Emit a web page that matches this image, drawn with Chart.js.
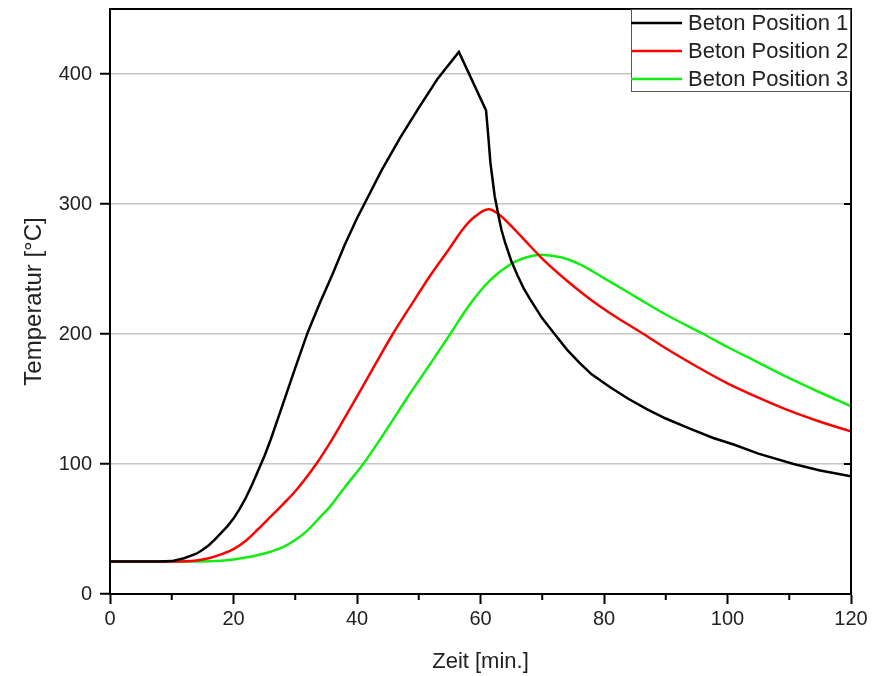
<!DOCTYPE html>
<html>
<head>
<meta charset="utf-8">
<script src="https://cdn.jsdelivr.net/npm/chart.js@4"></script>
<style>
  html, body { margin: 0; padding: 0; background: #fff; }
</style>
</head>
<body>
<canvas id="myChart" width="881" height="676"></canvas>
<script>
// Werte
const serienNamen = ['Beton Position 1', 'Beton Position 2', 'Beton Position 3'];

const zeit1 = [0, 8, 10, 12, 14, 15, 16, 17, 18, 19, 20, 21, 22, 23, 24, 25, 26, 28, 30, 32, 34, 36, 38, 40, 42, 44, 47, 50, 53, 56.5,
  60.9, 61.3, 61.6, 62.3, 63, 63.4, 64, 65, 66, 67, 68, 70, 72, 74, 76, 78, 81, 84, 87, 90, 94, 97.7, 101, 105, 110.7, 115, 120];
const temp1 = [25, 25, 25.3, 27.5, 31, 34, 37.5, 42, 47, 52, 58, 65.5, 74, 84, 95, 106, 118.5, 146, 174, 201, 224, 245.5, 268.5, 289, 307.5, 326, 351, 374, 396, 417,
  372, 350, 332, 306, 289, 280, 270, 256, 245, 235, 227, 212, 200, 188, 178, 169, 159, 150, 142, 135, 127, 120, 115, 108, 100, 95, 90.5];

const zeit2 = [0, 10, 14, 16, 18, 20, 22, 24, 26, 28, 30, 33.4, 35.6, 38, 40.5, 43, 45.8, 49, 52, 55, 57.2, 59, 61.3,
  63, 66, 70.2, 74, 77.7, 81, 86.4, 90, 95, 100, 105, 110, 115, 120];
const temp2 = [25, 25, 25.8, 27.5, 30.5, 34.5, 41, 50, 59.5, 69, 79, 100, 116, 135.5, 156, 177, 200, 224, 246, 266, 281, 290, 296,
  292, 278, 257, 241, 227, 216, 200, 189, 175, 162, 151, 141, 132.5, 125];

const zeit3 = [0, 14, 18, 20, 22, 24, 26, 28, 30, 32, 34, 35.6, 38, 41, 45, 48, 52, 55.1, 58, 61.5, 65, 67.5, 69.6,
  73, 76.1, 80, 85, 90, 96.1, 100, 105, 110, 115, 120];
const temp3 = [25, 25, 25.5, 26.5, 28, 30, 32.5, 36, 41.5, 49, 59, 67, 82, 100, 128, 150, 178, 200, 221, 241, 254, 259, 261,
  259, 253.5, 243, 229, 215, 200, 190, 178, 166, 155, 144.5];

const xTicks = [0, 20, 40, 60, 80, 100, 120];
const xMinorTicks = [10, 30, 50, 70, 90, 110];
const yTicks = [0, 100, 200, 300, 400];

const farben = ['#000000', '#ff0000', '#11ee11'];

function punkte(zeit, temp) {
  return zeit.map((t, i) => ({ x: t, y: temp[i] }));
}

// Rahmen oben/rechts, Nebenstriche
const rahmenPlugin = {
  id: 'rahmen',
  afterDatasetsDraw(chart) {
    const ctx = chart.ctx;
    const a = chart.chartArea;
    const xs = chart.scales.x;
    const ys = chart.scales.y;
    ctx.save();
    ctx.strokeStyle = '#000';
    ctx.lineWidth = 2;
    ctx.beginPath();
    ctx.moveTo(a.left, a.top);
    ctx.lineTo(a.right, a.top);
    ctx.lineTo(a.right, a.bottom);
    ctx.stroke();
    ctx.beginPath();
    xMinorTicks.forEach(v => {
      const px = xs.getPixelForValue(v);
      ctx.moveTo(px, a.bottom);
      ctx.lineTo(px, a.bottom + 6);
    });
    yTicks.forEach(v => {
      if (v === 0) return;
      const py = ys.getPixelForValue(v);
      ctx.moveTo(a.right, py);
      ctx.lineTo(a.right - 7, py);
    });
    ctx.stroke();
    ctx.restore();
  }
};

// Legende im Diagramm oben rechts
const legendePlugin = {
  id: 'legendeInnen',
  afterDatasetsDraw(chart) {
    const ctx = chart.ctx;
    const a = chart.chartArea;
    const breite = 220, hoehe = 83;
    const links = a.right - breite;
    const oben = a.top;
    ctx.save();
    ctx.fillStyle = '#fff';
    ctx.fillRect(links, oben, breite, hoehe);
    ctx.strokeStyle = '#555';
    ctx.lineWidth = 1;
    ctx.strokeRect(links + 0.5, oben + 0.5, breite - 1, hoehe - 1);
    ctx.font = '22px "Liberation Sans", Arial, sans-serif';
    ctx.textBaseline = 'middle';
    chart.data.datasets.forEach((ds, i) => {
      const y = oben + 14 + i * 28;
      ctx.strokeStyle = ds.borderColor;
      ctx.lineWidth = 2.5;
      ctx.beginPath();
      ctx.moveTo(links, y);
      ctx.lineTo(links + 51, y);
      ctx.stroke();
      ctx.fillStyle = '#222';
      ctx.fillText(ds.label, links + 57, y + 1);
    });
    ctx.restore();
  }
};

const data = {
  datasets: [
    { label: serienNamen[0], data: punkte(zeit1, temp1), borderColor: farben[0], tension: 0 },
    { label: serienNamen[1], data: punkte(zeit2, temp2), borderColor: farben[1], cubicInterpolationMode: 'monotone' },
    { label: serienNamen[2], data: punkte(zeit3, temp3), borderColor: farben[2], cubicInterpolationMode: 'monotone' }
  ].map(d => Object.assign(d, { borderWidth: 2.5, pointRadius: 0, fill: false }))
};

const schrift = { family: '"Liberation Sans", Arial, sans-serif' };

const config = {
  type: 'line',
  data: data,
  options: {
    responsive: false,
    animation: false,
    devicePixelRatio: 1,
    layout: { padding: { top: 9, right: 30, left: 0, bottom: 0 } },
    plugins: {
      legend: { display: false },
      tooltip: { enabled: false }
    },
    scales: {
      x: {
        type: 'linear',
        min: 0,
        max: 120,
        afterBuildTicks: s => { s.ticks = xTicks.map(v => ({ value: v })); },
        afterFit: s => { s.height = 82; s.paddingLeft = 0; },
        border: { display: true, color: '#000', width: 2 },
        grid: { drawOnChartArea: false, tickLength: 10, tickColor: '#000', tickWidth: 2 },
        ticks: { color: '#222', padding: 3, font: Object.assign({ size: 20 }, schrift), maxRotation: 0 },
        title: { display: true, text: 'Zeit [min.]', color: '#222', padding: { top: 0, bottom: 1 }, font: Object.assign({ size: 22 }, schrift) }
      },
      y: {
        min: 0,
        max: 450,
        afterBuildTicks: s => { s.ticks = yTicks.map(v => ({ value: v })); },
        afterFit: s => { s.width = 110; s.paddingTop = 0; s.paddingBottom = 0; },
        border: { display: true, color: '#000', width: 2 },
        grid: {
          color: c => (c.tick && c.tick.value === 0) ? 'rgba(0,0,0,0)' : '#c4c4c4',
          lineWidth: 1.5,
          tickLength: 10,
          tickColor: '#000',
          tickWidth: 2
        },
        ticks: { color: '#222', padding: 8, font: Object.assign({ size: 20 }, schrift) },
        title: { display: true, text: 'Temperatur [°C]', color: '#222', padding: { top: 20, bottom: 0 }, font: Object.assign({ size: 24 }, schrift) }
      }
    }
  },
  plugins: [rahmenPlugin, legendePlugin]
};

const myChart = new Chart(document.getElementById('myChart'), config);
</script>
</body>
</html>
